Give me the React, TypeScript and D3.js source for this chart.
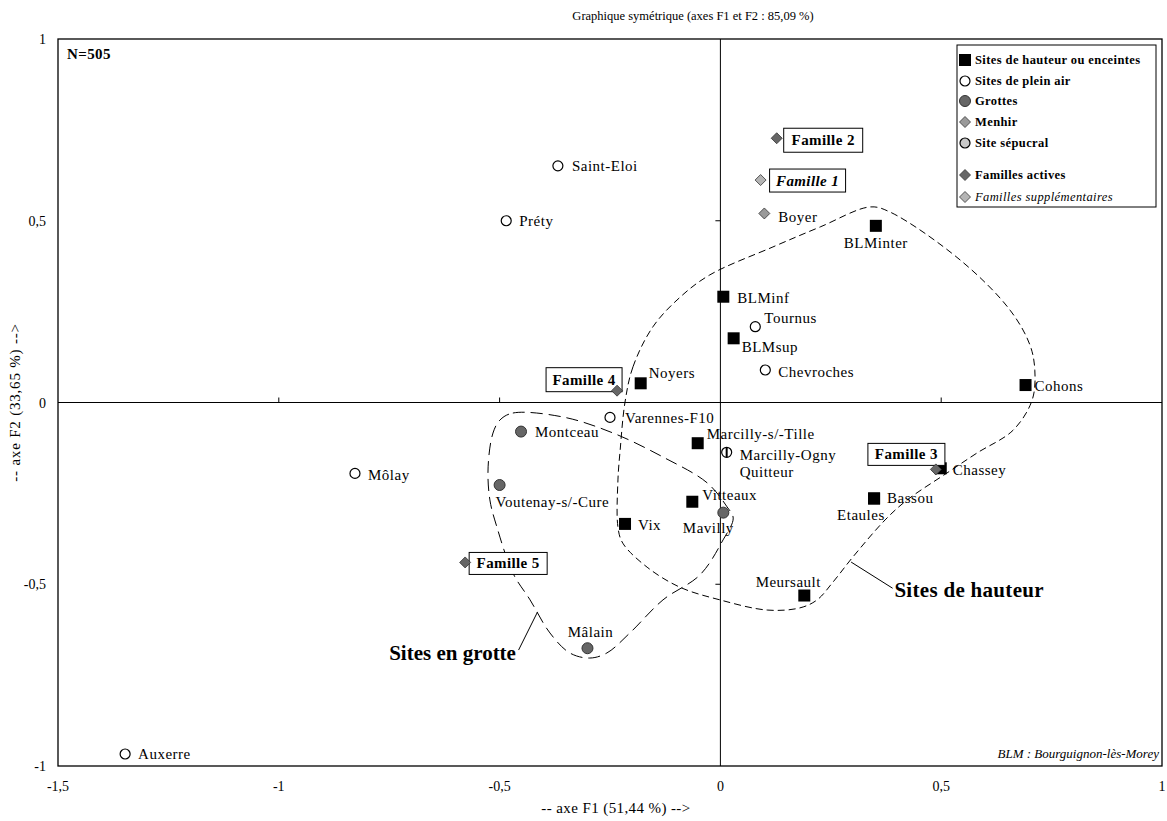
import * as d3 from 'd3';

const WIDTH = 1167;
const HEIGHT = 821;
const MARGIN = { top: 39, right: 5, bottom: 55, left: 58 };
const FONT = "'Liberation Serif', 'DejaVu Serif', 'Times New Roman', serif";

// site categories
type Kind = 'hauteur' | 'pleinAir' | 'grotte' | 'menhir' | 'sepulcral';

const siteNames = [
  'Saint-Eloi', 'Préty', 'Boyer', 'BLMinter', 'BLMinf', 'Tournus', 'BLMsup', 'Chevroches',
  'Noyers', 'Cohons', 'Varennes-F10', 'Montceau', 'Môlay', 'Voutenay-s/-Cure', 'Vix',
  'Mâlain', 'Marcilly-s/-Tille', 'Marcilly-Ogny', 'Vitteaux', 'Mavilly', 'Chassey',
  'Bassou', 'Etaules', 'Meursault', 'Auxerre',
];
const siteKinds: Kind[] = [
  'pleinAir', 'pleinAir', 'menhir', 'hauteur', 'hauteur', 'pleinAir', 'hauteur', 'pleinAir',
  'hauteur', 'hauteur', 'pleinAir', 'grotte', 'pleinAir', 'grotte', 'hauteur',
  'grotte', 'hauteur', 'sepulcral', 'hauteur', 'grotte', 'hauteur',
  'hauteur', 'hauteur', 'hauteur', 'pleinAir',
];
const siteF1 = [
  -0.368, -0.485, 0.0995, 0.352, 0.0066, 0.079, 0.030, 0.1017,
  -0.1805, 0.691, -0.25, -0.4515, -0.8275, -0.50, -0.216,
  -0.301, -0.0514, 0.0142, -0.0636, 0.0066, 0.499,
  0.348, 0.348, 0.19, -1.348,
];
const siteF2 = [
  0.651, 0.50, 0.52, 0.486, 0.291, 0.2085, 0.1766, 0.0894,
  0.0528, 0.048, -0.041, -0.080, -0.195, -0.227, -0.334,
  -0.676, -0.112, -0.137, -0.273, -0.303, -0.181,
  -0.264, -0.264, -0.531, -0.967,
];

const familyNames = ['Famille 1', 'Famille 2', 'Famille 3', 'Famille 4', 'Famille 5'];
const familyActive = [false, true, true, true, true];
const familyF1 = [0.091, 0.1275, 0.488, -0.234, -0.578];
const familyF2 = [0.612, 0.727, -0.184, 0.0325, -0.44];

// hand-traced outlines of the two groups (F1, F2)
const hauteurHull: [number, number][] = [
  [-0.216, 0.001], [-0.198, 0.098], [-0.153, 0.208], [-0.091, 0.29], [-0.024, 0.351],
  [0.119, 0.428], [0.226, 0.483], [0.339, 0.538], [0.384, 0.524], [0.543, 0.392],
  [0.656, 0.254], [0.701, 0.158], [0.712, 0.089], [0.706, 0.007], [0.663, -0.076],
  [0.581, -0.139], [0.513, -0.194], [0.423, -0.268], [0.373, -0.323], [0.3, -0.425],
  [0.255, -0.494], [0.219, -0.543], [0.18, -0.565], [0.106, -0.571], [-0.001, -0.543],
  [-0.092, -0.508], [-0.166, -0.453], [-0.221, -0.387], [-0.232, -0.343], [-0.232, -0.213],
  [-0.227, -0.131],
];
const grotteHull: [number, number][] = [
  [-0.499, -0.048], [-0.47, -0.029], [-0.356, -0.04], [-0.243, -0.084], [-0.13, -0.15],
  [-0.03, -0.221], [0.015, -0.287], [0.029, -0.318], [0.006, -0.378], [-0.046, -0.474],
  [-0.13, -0.543], [-0.205, -0.634], [-0.257, -0.689], [-0.296, -0.703], [-0.341, -0.689],
  [-0.386, -0.634], [-0.431, -0.543], [-0.47, -0.469], [-0.506, -0.343], [-0.522, -0.268],
  [-0.526, -0.177], [-0.515, -0.084],
];

const xTicks = [-1.5, -1, -0.5, 0, 0.5, 1];
const yTicks = [-1, -0.5, 0, 0.5, 1];

const legendLabels = [
  'Sites  de hauteur ou enceintes', 'Sites  de plein air', 'Grottes', 'Menhir',
  'Site sépucral', 'Familles  actives', 'Familles  supplémentaires',
];

// label placement in px relative to the point: [dx, dy, anchor]
const LABEL_POS: Record<string, [number, number, string]> = {
  'Saint-Eloi': [14, 5, 'start'],
  'Préty': [13, 5, 'start'],
  'Boyer': [14, 9, 'start'],
  'BLMinter': [0, 22, 'middle'],
  'BLMinf': [14, 6, 'start'],
  'Tournus': [9, -4, 'start'],
  'BLMsup': [8, 14, 'start'],
  'Chevroches': [13, 7, 'start'],
  'Noyers': [8, -5, 'start'],
  'Cohons': [9, 6, 'start'],
  'Varennes-F10': [15, 6, 'start'],
  'Montceau': [14, 5, 'start'],
  'Môlay': [13, 7, 'start'],
  'Voutenay-s/-Cure': [-4, 22, 'start'],
  'Vix': [13, 6, 'start'],
  'Mâlain': [3, -11, 'middle'],
  'Marcilly-s/-Tille': [9, -4, 'start'],
  'Marcilly-Ogny': [13, 8, 'start'],
  'Vitteaux': [10, -2, 'start'],
  'Mavilly': [-15, 20, 'middle'],
  'Chassey': [12, 7, 'start'],
  'Bassou': [13, 5, 'start'],
  'Etaules': [-37, 22, 'start'],
  'Meursault': [-16, -9, 'middle'],
  'Auxerre': [13, 5, 'start'],
};

// family label boxes relative to the diamond: [x0, y0, w, h]
const FAMILY_BOX: Record<string, [number, number, number, number]> = {
  'Famille 1': [9, -11, 76, 23],
  'Famille 2': [7, -10, 79, 24],
  'Famille 3': [-68, -26, 77, 22],
  'Famille 4': [-71, -23, 76, 24],
  'Famille 5': [4, -10, 78, 22],
};

const GREY_DARK = '#666666';
const GREY_MENHIR = '#9a9a9a';
const GREY_LIGHT = '#b4b4b4';

const Marker = ({ kind, x, y }: { kind: string; x: number; y: number }) => {
  if (kind === 'hauteur') {
    return <rect x={x - 6} y={y - 6} width={12} height={12} fill="#000" />;
  }
  if (kind === 'pleinAir') {
    return <circle cx={x} cy={y} r={5} fill="#fff" stroke="#000" strokeWidth={1.2} />;
  }
  if (kind === 'grotte') {
    return <circle cx={x} cy={y} r={5.5} fill={GREY_DARK} stroke="#333" strokeWidth={1} />;
  }
  if (kind === 'sepulcral') {
    return (
      <g>
        <circle cx={x} cy={y} r={5} fill="#fff" stroke="#000" strokeWidth={1.2} />
        <line x1={x} x2={x} y1={y - 5} y2={y + 5} stroke="#000" strokeWidth={2} />
      </g>
    );
  }
  if (kind === 'sepulcralLegend') {
    return <circle cx={x} cy={y} r={5} fill="#c8c8c8" stroke="#000" strokeWidth={1.2} />;
  }
  const fill = kind === 'menhir' ? GREY_MENHIR : kind === 'active' ? GREY_DARK : GREY_LIGHT;
  return (
    <path
      d={`M${x},${y - 5.5}L${x + 5.5},${y}L${x},${y + 5.5}L${x - 5.5},${y}Z`}
      fill={fill}
      stroke="#333"
      strokeWidth={0.8}
    />
  );
};

export default function App() {
  const xScale = d3
    .scaleLinear()
    .domain([-1.5, 1])
    .range([MARGIN.left, WIDTH - MARGIN.right]);
  const yScale = d3
    .scaleLinear()
    .domain([-1, 1])
    .range([HEIGHT - MARGIN.bottom, MARGIN.top]);

  const x0 = xScale(0);
  const y0 = yScale(0);

  const hullLine = d3
    .line<[number, number]>()
    .x(d => xScale(d[0]))
    .y(d => yScale(d[1]))
    .curve(d3.curveCatmullRomClosed.alpha(0.5));

  const sites = siteNames.map((name, i) => ({
    name,
    kind: siteKinds[i],
    x: xScale(siteF1[i]),
    y: yScale(siteF2[i]),
  }));

  const families = familyNames.map((name, i) => ({
    name,
    active: familyActive[i],
    x: xScale(familyF1[i]),
    y: yScale(familyF2[i]),
  }));

  const legendKinds = ['hauteur', 'pleinAir', 'grotte', 'menhir', 'sepulcralLegend', 'active', 'supp'];
  const legendY = [60, 81, 101, 122, 143, 175, 197];

  return (
    <svg
      width={WIDTH}
      height={HEIGHT}
      style={{ position: 'absolute', left: 0, top: 0, background: '#fff', fontFamily: FONT }}
    >
      {/* title */}
      <text x={693} y={20} textAnchor="middle" fontSize={12.5}>
        Graphique symétrique (axes F1 et F2 : 85,09 %)
      </text>

      {/* frame */}
      <rect
        x={xScale(-1.5)}
        y={yScale(1)}
        width={xScale(1) - xScale(-1.5)}
        height={yScale(-1) - yScale(1)}
        fill="none"
        stroke="#000"
        strokeWidth={1.3}
      />

      {/* zero axes */}
      <line x1={xScale(-1.5)} x2={xScale(1)} y1={y0} y2={y0} stroke="#000" strokeWidth={1} />
      <line x1={x0} x2={x0} y1={yScale(1)} y2={yScale(-1)} stroke="#000" strokeWidth={1} />
      {xTicks.filter(t => t !== 0 && t !== -1.5 && t !== 1).map(t => (
        <line key={'xt' + t} x1={xScale(t)} x2={xScale(t)} y1={y0} y2={y0 - 5} stroke="#000" />
      ))}
      {yTicks.filter(t => t !== 0 && Math.abs(t) !== 1).map(t => (
        <line key={'yt' + t} x1={x0} x2={x0 - 5} y1={yScale(t)} y2={yScale(t)} stroke="#000" />
      ))}

      {/* tick labels */}
      {xTicks.map(t => (
        <text key={'xl' + t} x={xScale(t)} y={HEIGHT - 30} textAnchor="middle" fontSize={14}>
          {String(t).replace('.', ',')}
        </text>
      ))}
      {yTicks.map(t => (
        <text key={'yl' + t} x={46} y={yScale(t) + 5} textAnchor="end" fontSize={14}>
          {String(t).replace('.', ',')}
        </text>
      ))}

      {/* axis titles */}
      <text x={616} y={HEIGHT - 8} textAnchor="middle" fontSize={15} letterSpacing={0.4}>
        -- axe F1 (51,44 %) --&gt;
      </text>
      <text
        transform={`translate(20,${y0}) rotate(-90)`}
        textAnchor="middle"
        fontSize={15}
        letterSpacing={0.8}
      >
        -- axe F2 (33,65 %) --&gt;
      </text>

      <text x={67} y={59} fontSize={15} fontWeight="bold" letterSpacing={0.4}>N=505</text>
      <text x={WIDTH - 8} y={yScale(-1) - 8} textAnchor="end" fontSize={13} fontStyle="italic">
        BLM : Bourguignon-lès-Morey
      </text>

      {/* group outlines */}
      <path d={hullLine(hauteurHull) ?? ''} fill="none" stroke="#000" strokeWidth={1} strokeDasharray="7,4" />
      <path d={hullLine(grotteHull) ?? ''} fill="none" stroke="#000" strokeWidth={1} strokeDasharray="12,6" />

      {/* group annotations */}
      <line
        x1={xScale(-0.457)} y1={yScale(-0.681)}
        x2={xScale(-0.414)} y2={yScale(-0.576)}
        stroke="#000"
      />
      <text x={xScale(-0.463)} y={yScale(-0.709)} textAnchor="end" fontSize={21} fontWeight="bold">
        Sites en grotte
      </text>
      <line
        x1={xScale(0.296)} y1={yScale(-0.439)}
        x2={xScale(0.39)} y2={yScale(-0.511)}
        stroke="#000"
      />
      <text x={xScale(0.394)} y={yScale(-0.535)} fontSize={21} fontWeight="bold" letterSpacing={0.3}>
        Sites de hauteur
      </text>

      {/* sites */}
      {sites.map(s => {
        const [dx, dy, anchor] = LABEL_POS[s.name] ?? [10, 5, 'start'];
        return (
          <g key={s.name} fontSize={15} letterSpacing={0.5}>
            <Marker kind={s.kind} x={s.x} y={s.y} />
            <text x={s.x + dx} y={s.y + dy} textAnchor={anchor as any}>
              {s.name}
            </text>
            {s.name === 'Marcilly-Ogny' && (
              <text x={s.x + dx} y={s.y + dy + 17}>Quitteur</text>
            )}
          </g>
        );
      })}

      {/* families */}
      {families.map(f => {
        const [bx, by, bw, bh] = FAMILY_BOX[f.name];
        return (
          <g key={f.name}>
            <rect
              x={f.x + bx}
              y={f.y + by}
              width={bw}
              height={bh}
              fill="#fff"
              stroke="#000"
              strokeWidth={1}
            />
            <text
              x={f.x + bx + bw / 2}
              y={f.y + by + bh / 2 + 5}
              textAnchor="middle"
              fontSize={15}
              letterSpacing={0.4}
              fontWeight="bold"
              fontStyle={f.active ? 'normal' : 'italic'}
            >
              {f.name}
            </text>
            <Marker kind={f.active ? 'active' : 'supp'} x={f.x} y={f.y} />
          </g>
        );
      })}

      {/* legend */}
      <rect x={957} y={45} width={199} height={162} fill="#fff" stroke="#000" strokeWidth={1} />
      {legendLabels.map((label, i) => (
        <g key={label}>
          <Marker kind={legendKinds[i]} x={965} y={legendY[i]} />
          <text
            x={975}
            y={legendY[i] + 4}
            fontSize={12.5}
            letterSpacing={0.4}
            fontWeight={i < 6 ? 'bold' : 'normal'}
            fontStyle={i === 6 ? 'italic' : 'normal'}
          >
            {label}
          </text>
        </g>
      ))}
    </svg>
  );
}
